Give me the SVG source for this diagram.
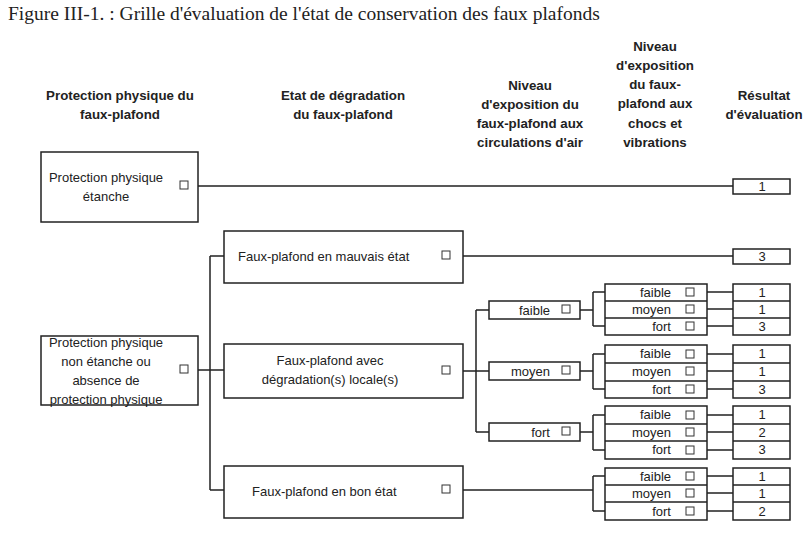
<svg xmlns="http://www.w3.org/2000/svg" width="807" height="537" viewBox="0 0 807 537">
<style>
text{font-family:"Liberation Sans",Arial,sans-serif;font-size:13px;fill:#222}
.h{font-weight:bold;text-anchor:middle;font-size:13.3px}
.c{text-anchor:middle}
.r{text-anchor:end}
.b{fill:#fff;stroke:#222;stroke-width:1.5}
.k{fill:#fff;stroke:#333;stroke-width:1}
.l{fill:none;stroke:#222;stroke-width:1.5}
</style>
<rect width="807" height="537" fill="#fff"/>
<text x="8" y="20" style="font-family:'Liberation Serif',serif;font-size:19.5px">Figure III-1. : Grille d'évaluation de l'état de conservation des faux plafonds</text>
<g id="headers">
<text class="h" x="120" y="100">Protection physique du</text><text class="h" x="120" y="119">faux-plafond</text>
<text class="h" x="343" y="100">Etat de dégradation</text><text class="h" x="343" y="119">du faux-plafond</text>
<text class="h" x="530" y="90">Niveau</text><text class="h" x="530" y="109">d'exposition du</text><text class="h" x="530" y="128">faux-plafond aux</text><text class="h" x="530" y="147">circulations d'air</text>
<text class="h" x="655" y="51">Niveau</text><text class="h" x="655" y="70">d'exposition</text><text class="h" x="655" y="89">du faux-</text><text class="h" x="655" y="108">plafond aux</text><text class="h" x="655" y="128">chocs et</text><text class="h" x="655" y="147">vibrations</text>
<text class="h" x="764" y="100">Résultat</text><text class="h" x="764" y="119">d'évaluation</text>
</g>
<g id="connectors" class="l">
<path d="M198 186H733M463 256H733M198 370H210M210 256V490M210 256H224M210 370H224M210 490H224"/>
<path d="M463 371H476M476 310V432M476 310H489M476 371H489M476 432H489"/>
<path d="M580 310H593M580 371H593M580 432H593M463 490H593"/>
<path d="M593 292V326M593 292H605M593 326H605M593 354V389M593 354H605M593 389H605M593 415V450M593 415H605M593 450H605M593 476V511M593 476H605M593 511H605"/>
<path d="M707 292H733M707 309H733M707 326H733M707 354H733M707 371H733M707 389H733M707 415H733M707 432H733M707 450H733M707 476H733M707 493H733M707 511H733"/>
</g>
<g id="n-etanche"><rect class="b" x="41" y="152" width="157" height="70"/><text class="c" x="106" y="182">Protection physique</text><text class="c" x="106" y="201">étanche</text><rect class="k" x="180" y="181" width="8" height="8"/></g>
<g id="n-nonetanche"><rect class="b" x="41" y="336" width="157" height="69"/><text class="c" x="106" y="347">Protection physique</text><text class="c" x="106" y="366">non étanche ou</text><text class="c" x="106" y="385">absence de</text><text class="c" x="106" y="404">protection physique</text><rect class="k" x="180" y="365" width="8" height="8"/></g>
<g id="n-mauvais"><rect class="b" x="224" y="231" width="239" height="52"/><text x="238" y="261">Faux-plafond en mauvais état</text><rect class="k" x="442" y="251" width="8" height="8"/></g>
<g id="n-degr"><rect class="b" x="224" y="344" width="239" height="54"/><text class="c" x="330" y="365">Faux-plafond avec</text><text class="c" x="330" y="384">dégradation(s) locale(s)</text><rect class="k" x="442" y="366" width="8" height="8"/></g>
<g id="n-bon"><rect class="b" x="224" y="466" width="239" height="52"/><text x="252" y="496">Faux-plafond en bon état</text><rect class="k" x="442" y="485" width="8" height="8"/></g>
<g id="n-air-faible"><rect class="b" x="489" y="301" width="91" height="18"/><text class="r" x="550" y="315">faible</text><rect class="k" x="562" y="305" width="8" height="8"/></g>
<g id="n-air-moyen"><rect class="b" x="489" y="362" width="91" height="18"/><text class="r" x="550" y="376">moyen</text><rect class="k" x="562" y="366" width="8" height="8"/></g>
<g id="n-air-fort"><rect class="b" x="489" y="423" width="91" height="18"/><text class="r" x="550" y="437">fort</text><rect class="k" x="562" y="427" width="8" height="8"/></g>
<g id="n-chocs">
<rect class="b" x="605" y="284" width="102" height="51"/><path class="l" d="M605 301H707M605 318H707"/>
<text class="r" x="671" y="297">faible</text><text class="r" x="671" y="314">moyen</text><text class="r" x="671" y="331">fort</text>
<rect class="b" x="605" y="345" width="102" height="53"/><path class="l" d="M605 363H707M605 381H707"/>
<text class="r" x="671" y="358">faible</text><text class="r" x="671" y="376">moyen</text><text class="r" x="671" y="394">fort</text>
<rect class="b" x="605" y="406" width="102" height="53"/><path class="l" d="M605 424H707M605 441H707"/>
<text class="r" x="671" y="419">faible</text><text class="r" x="671" y="437">moyen</text><text class="r" x="671" y="454">fort</text>
<rect class="b" x="605" y="468" width="102" height="52"/><path class="l" d="M605 485H707M605 502H707"/>
<text class="r" x="671" y="481">faible</text><text class="r" x="671" y="498">moyen</text><text class="r" x="671" y="516">fort</text>
<g><rect class="k" x="686" y="288" width="8" height="8"/><rect class="k" x="686" y="305" width="8" height="8"/><rect class="k" x="686" y="322" width="8" height="8"/><rect class="k" x="686" y="350" width="8" height="8"/><rect class="k" x="686" y="367" width="8" height="8"/><rect class="k" x="686" y="385" width="8" height="8"/><rect class="k" x="686" y="411" width="8" height="8"/><rect class="k" x="686" y="428" width="8" height="8"/><rect class="k" x="686" y="446" width="8" height="8"/><rect class="k" x="686" y="472" width="8" height="8"/><rect class="k" x="686" y="489" width="8" height="8"/><rect class="k" x="686" y="507" width="8" height="8"/></g>
</g>
<g id="n-result">
<rect class="b" x="733" y="179" width="57" height="15"/><text class="c" x="762" y="191">1</text>
<rect class="b" x="733" y="249" width="57" height="15"/><text class="c" x="762" y="261">3</text>
<rect class="b" x="733" y="284" width="57" height="51"/><path class="l" d="M733 301H790M733 318H790"/>
<text class="c" x="762" y="297">1</text><text class="c" x="762" y="314">1</text><text class="c" x="762" y="331">3</text>
<rect class="b" x="733" y="345" width="57" height="53"/><path class="l" d="M733 363H790M733 381H790"/>
<text class="c" x="762" y="358">1</text><text class="c" x="762" y="376">1</text><text class="c" x="762" y="394">3</text>
<rect class="b" x="733" y="406" width="57" height="53"/><path class="l" d="M733 424H790M733 441H790"/>
<text class="c" x="762" y="419">1</text><text class="c" x="762" y="437">2</text><text class="c" x="762" y="454">3</text>
<rect class="b" x="733" y="468" width="57" height="52"/><path class="l" d="M733 485H790M733 502H790"/>
<text class="c" x="762" y="481">1</text><text class="c" x="762" y="498">1</text><text class="c" x="762" y="516">2</text>
</g>
</svg>
